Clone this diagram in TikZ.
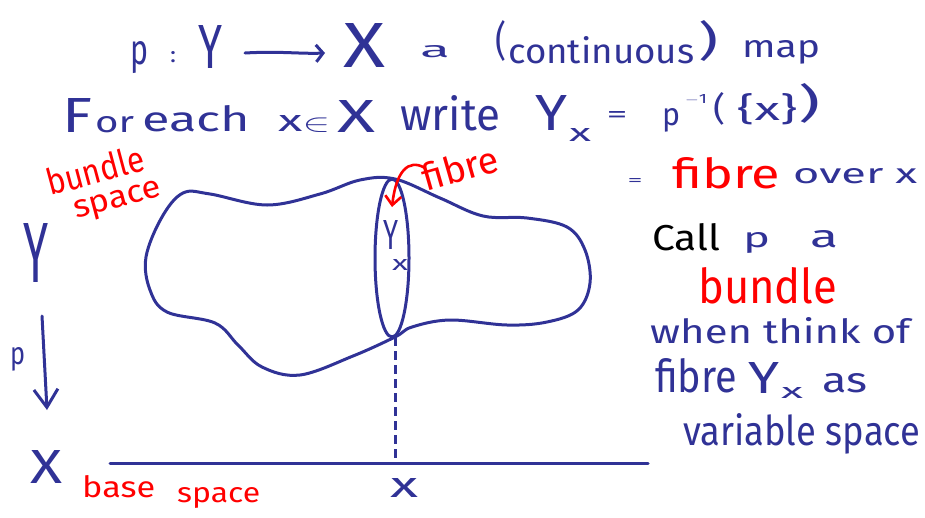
\documentclass[tikz,border=0pt]{standalone}
\usepackage{graphicx}
\usepackage{fontspec}
\IfFontExistsTF{FiraSans-Light.otf}{\setmainfont{FiraSans-Light.otf}}{\setmainfont{Fira Sans}}
\usetikzlibrary{arrows.meta}
\definecolor{inkblue}{RGB}{48,50,150}
\definecolor{inkred}{RGB}{255,0,0}
% width, height above baseline, font size, text
\newcommand\hw[4]{{\fontsize{#3}{#3}\selectfont\resizebox{#1}{#2}{#4}}}
\tikzset{
  bl/.style={text=inkblue, inner sep=0pt, anchor=base west},
  rd/.style={text=inkred, inner sep=0pt, anchor=base west},
  bk/.style={text=black, inner sep=0pt, anchor=base west},
  ink/.style={draw=inkblue, line width=3pt, line cap=round, line join=round},
  redink/.style={draw=inkred, line width=2.6pt, line cap=round, line join=round},
  barb/.style={-{Straight Barb[length=18pt,width=24pt]}},
}
\begin{document}
\begin{tikzpicture}[x=1pt,y=-1pt]
\useasboundingbox (0,0) rectangle (925,517);
% ---- line 1
\node[bl] (l1p) at (130,64) {\hw{18pt}{23pt}{42}{p}};
\node[bl] (l1c) at (170,62) {\hw{6pt}{11pt}{21}{:}};
\node[bl] (l1Y) at (198,68) {\hw{24pt}{43pt}{62}{Y}};
\node[bl] (l1X) at (343,67) {\hw{42pt}{44pt}{64}{X}};
\coordinate (ar0) at (245,53);
\coordinate (ar1) at (325,53);
\draw[ink, -{Straight Barb[length=7pt,width=17pt]}] (ar0) .. controls (280,51) and (300,54) .. (ar1);
\node[bl] (l1a) at (420,57) {\hw{30pt}{12pt}{23}{a}};
\node[bl] (l1po) at (495,55) {\hw{11pt}{35pt}{47}{(}};
\node[bl] (l1cont) at (508,63) {\hw{186pt}{27pt}{37}{continuous}};
\node[bl] (l1pc) at (698,55) {\hw{20pt}{35pt}{47}{)}};
\node[bl] (l1map) at (742,57) {\hw{78pt}{17pt}{32}{map}};
% ---- line 2
\node[bl] (l2F) at (62,132) {\hw{30pt}{34pt}{49}{F}};
\node[bl] (l2or) at (95,132) {\hw{39pt}{16pt}{30}{or}};
\node[bl] (l2each) at (142,131) {\hw{108pt}{26pt}{36}{each}};
\node[bl] (l2xin) at (278,131) {\hw{52pt}{16pt}{30}{x$\in$}};
\node[bl] (l2X) at (337,132) {\hw{38pt}{32pt}{46}{X}};
\node[bl] (l2write) at (400,130) {\hw{100pt}{35pt}{48}{write}};
\node[bl] (l2Y) at (535,130) {\hw{32pt}{35pt}{51}{Y}};
\node[bl] (l2Ysub) at (569,141) {\hw{22pt}{13pt}{25}{x}};
\node[bl, anchor=center] (l2eq) at (617,117) {\hw{21pt}{11pt}{30}{=}};
\node[bl] (l2p) at (662,125) {\hw{18pt}{17pt}{32}{p}};
\node[bl] (l2inv) at (685,103) {\hw{22pt}{9pt}{13}{$-$1}};
\node[bl] (l2po) at (713,120) {\hw{12pt}{28pt}{37}{(}};
\node[bl] (l2set) at (737,120) {\hw{60pt}{27pt}{36}{\{x\}}};
\node[bl] (l2pc) at (798,117) {\hw{22pt}{34pt}{45}{)}};
% ---- right column
\node[bl, anchor=center] (req) at (635,182) {\hw{15pt}{7pt}{20}{=}};
\node[rd] (rfibre) at (672,188) {\hw{108pt}{31pt}{43}{fibre}};
\node[bl] (rover) at (793,183) {\hw{124pt}{15pt}{28}{over x}};
\node[bk] (rcall) at (652,250) {\hw{68pt}{27pt}{38}{Call}};
\node[bl] (rp) at (743,247) {\hw{27pt}{15pt}{28}{p}};
\node[bl] (ra) at (810,247) {\hw{28pt}{17pt}{32}{a}};
\node[rd] (rbundle) at (698,303) {\hw{139pt}{36pt}{50}{bundle}};
\node[bl] (rwhen) at (650,343) {\hw{260pt}{26pt}{36}{when think of}};
\node[bl] (rfib2) at (655,392) {\hw{82pt}{34pt}{47}{fibre}};
\node[bl] (rY) at (748,393) {\hw{31pt}{31pt}{45}{Y}};
\node[bl] (rYsub) at (781,398) {\hw{22pt}{11pt}{21}{x}};
\node[bl] (ras) at (822,392) {\hw{45pt}{19pt}{36}{as}};
\node[bl] (rvar) at (683,445) {\hw{237pt}{32pt}{44}{variable space}};
% ---- left side labels
\node[rd, rotate=15] (bund) at (50,196) {\hw{100pt}{27pt}{37}{bundle}};
\node[rd, rotate=15] (bspace) at (76,219) {\hw{90pt}{17pt}{32}{space}};
\node[bl] (bigY) at (23,282) {\hw{25pt}{59pt}{86}{Y}};
\node[bl] (lp) at (10,364) {\hw{15pt}{17pt}{32}{p}};
\node[bl] (bigX) at (30,483) {\hw{32pt}{33pt}{48}{X}};
\node[rd] (base) at (82,497) {\hw{73pt}{22pt}{30}{base}};
\node[rd] (sp2) at (177,502) {\hw{83pt}{15pt}{28}{space}};
\node[bl] (bx) at (390,497) {\hw{28pt}{19pt}{36}{x}};
% ---- fibre labels
\node[bl] (fY) at (383,249) {\hw{15pt}{29pt}{42}{Y}};
\node[bl] (fx) at (392,270) {\hw{16pt}{11pt}{21}{x}};
\node[rd, rotate=16] (flab) at (426,192) {\hw{78pt}{28pt}{39}{fibre}};
% ---- blob (bundle space)
\draw[ink] plot[smooth cycle, tension=0.6] coordinates {
 (395,179) (440,198) (483,216) (527,218) (567,227) (585,250) (590,283)
 (578,310) (547,322) (507,325) (450,320) (412,327) (395,337) (353,356)
 (300,375) (262,367) (238,345) (215,323) (167,312) (150,290) (146,257)
 (162,217) (183,193) (210,194) (267,205) (320,194) (360,180)};
% ---- fibre ellipse
\draw[ink] (392,258) ellipse [x radius=17, y radius=79];
\coordinate (ftop) at (395,179);
\coordinate (fbot) at (395,337);
\coordinate (xb) at (395,463);
% ---- base line and dashed projection
\coordinate (bl0) at (110,463);
\coordinate (bl1) at (648,463);
\draw[ink] (bl0) -- (bl1);
\draw[ink, line cap=butt, dash pattern=on 9pt off 5pt] (fbot) -- (xb);
% ---- p arrow
\coordinate (pa) at (42,316);
\coordinate (pb) at (47,410);
\draw[ink, barb] (pa) -- (pb);
% ---- red fibre arrow
\coordinate (fa) at (425,168);
\coordinate (fb) at (392,207);
\draw[redink, -{Straight Barb[length=9pt,width=16pt]}] (fa) .. controls (408,158) and (396,172) .. (fb);
\end{tikzpicture}
\end{document}
